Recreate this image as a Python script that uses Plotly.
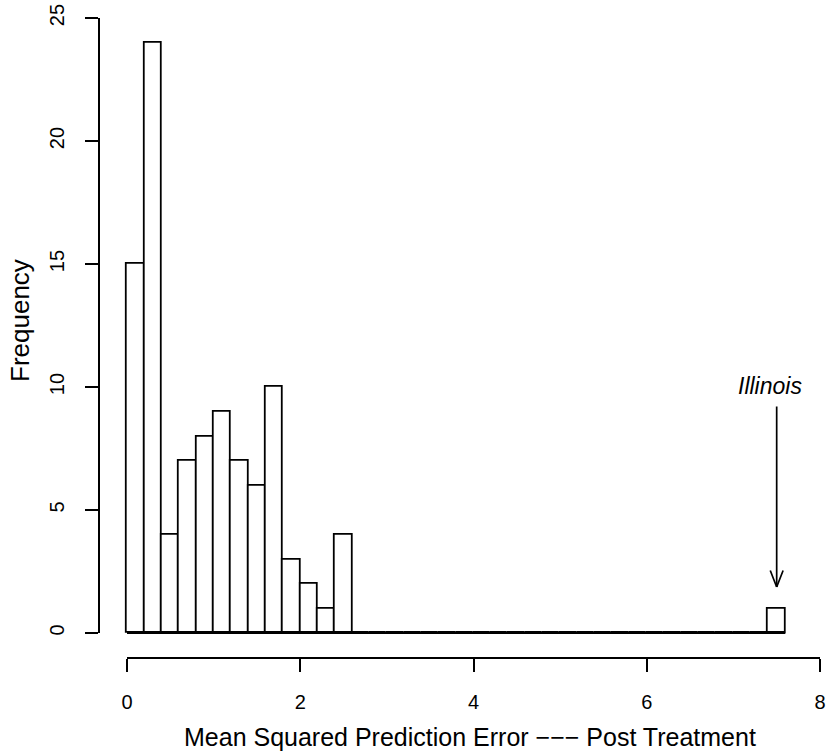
import plotly.graph_objects as go

# Histogram of post-treatment mean squared prediction error (bins of width 0.2)
bin_edges = [0.0, 0.2, 0.4, 0.6, 0.8, 1.0, 1.2, 1.4, 1.6, 1.8, 2.0, 2.2, 2.4, 2.6,
             2.8, 3.0, 3.2, 3.4, 3.6, 3.8, 4.0, 4.2, 4.4, 4.6, 4.8, 5.0, 5.2, 5.4,
             5.6, 5.8, 6.0, 6.2, 6.4, 6.6, 6.8, 7.0, 7.2, 7.4, 7.6]
counts = [15, 24, 4, 7, 8, 9, 7, 6, 10, 3, 2, 1, 4,
          0, 0, 0, 0, 0, 0, 0, 0, 0, 0, 0, 0,
          0, 0, 0, 0, 0, 0, 0, 0, 0, 0, 0, 0,
          1]
x_ticks = [0, 2, 4, 6, 8]
y_ticks = [0, 5, 10, 15, 20, 25]
label_state = "Illinois"
label_x = 7.5
label_y = 10.05
arrow_top = 9.27
arrow_tip = 1.87

centers = [(a + b) / 2 for a, b in zip(bin_edges[:-1], bin_edges[1:])]
widths = [b - a for a, b in zip(bin_edges[:-1], bin_edges[1:])]

W, H = 827, 752
FONT = "Liberation Sans, Arial, Helvetica, sans-serif"

# pixel frame of the drawn axes
X0, X1 = 127, 820      # x = 0 .. 8
YB, YT = 633, 18       # y = 0 .. 25
sx = (X1 - X0) / 8.0
sy = (YB - YT) / 25.0

def xdom(p0, p1):
    return [p0 / W, p1 / W]

def ydom(pb, pt):
    return [1 - pb / H, 1 - pt / H]

xpad, ypad = 0.2, 0.5

fig = go.Figure()
fig.add_trace(go.Bar(
    x=centers, y=counts, width=widths,
    marker=dict(color="white", line=dict(color="black", width=1.8)),
    hoverinfo="x+y", showlegend=False,
))
# outline of the empty bins along the baseline
fig.add_trace(go.Scatter(
    x=[bin_edges[0], bin_edges[-1]], y=[0, 0], mode="lines",
    line=dict(color="black", width=1.8), cliponaxis=False,
    hoverinfo="skip", showlegend=False,
))
# empty trace that carries the drawn axes
fig.add_trace(go.Scatter(x=[None], y=[None], xaxis="x2", yaxis="y2",
                         mode="markers", showlegend=False, hoverinfo="skip"))

axis_common = dict(showgrid=False, zeroline=False, showline=True,
                   linecolor="black", linewidth=1.7, ticks="outside",
                   ticklen=13, tickwidth=1.7, tickcolor="black",
                   tickfont=dict(family=FONT, size=20, color="black"),
                   automargin=False, fixedrange=True)

fig.update_layout(
    width=W, height=H,
    margin=dict(l=0, r=0, t=0, b=0),
    paper_bgcolor="white", plot_bgcolor="rgba(0,0,0,0)",
    bargap=0,
    xaxis=dict(range=[-xpad, 8], domain=xdom(X0 - xpad * sx, X1),
               visible=False, fixedrange=True),
    yaxis=dict(range=[-ypad, 25 + ypad], domain=ydom(YB + ypad * sy, YT - ypad * sy),
               visible=False, fixedrange=True),
    xaxis2=dict(range=[0, 8], domain=xdom(X0, X1), anchor="free",
                position=1 - 658 / H, tickvals=x_ticks, ticklabelstandoff=13,
                **axis_common),
    yaxis2=dict(range=[0, 25], domain=ydom(YB, YT), anchor="free",
                position=99 / W, tickvals=y_ticks, tickangle=-90,
                ticklabelstandoff=13, **axis_common),
    annotations=[
        dict(text="Mean Squared Prediction Error −−− Post Treatment",
             xref="paper", yref="paper", x=470 / W, y=1 - 737 / H,
             xanchor="center", yanchor="middle", showarrow=False,
             font=dict(family=FONT, size=25, color="black")),
        dict(text="Frequency", xref="paper", yref="paper",
             x=20 / W, y=1 - 321 / H, textangle=-90,
             xanchor="center", yanchor="middle", showarrow=False,
             font=dict(family=FONT, size=26, color="black")),
        dict(text="<i>" + label_state + "</i>", xref="x", yref="y",
             x=label_x - 0.08, y=label_y, xanchor="center", yanchor="middle",
             showarrow=False, font=dict(family=FONT, size=23, color="black")),
        # arrow shaft
        dict(text="", xref="x", yref="y", axref="x", ayref="y",
             x=label_x, y=arrow_tip, ax=label_x, ay=arrow_top,
             showarrow=True, arrowhead=0, arrowwidth=1.7, arrowcolor="black"),
        # open arrow head
        dict(text="", xref="x", yref="y", x=label_x, y=arrow_tip,
             ax=-7, ay=-18, showarrow=True, arrowhead=0,
             arrowwidth=1.7, arrowcolor="black"),
        dict(text="", xref="x", yref="y", x=label_x, y=arrow_tip,
             ax=7, ay=-18, showarrow=True, arrowhead=0,
             arrowwidth=1.7, arrowcolor="black"),
    ],
)

fig.write_html("out.html")
